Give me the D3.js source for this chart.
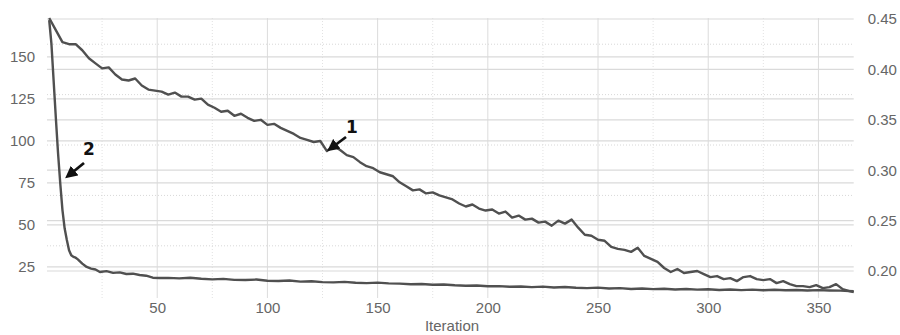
<!DOCTYPE html>
<html>
<head>
<meta charset="utf-8">
<script src="https://cdn.jsdelivr.net/npm/d3@7"></script>
<style>
  body { margin: 0; background: #fff; }
  svg text { font-family: "Liberation Sans", Arial, sans-serif; }
</style>
</head>
<body>
<svg id="chart" width="900" height="335"></svg>
<script>
// series 1 (right axis), every 3rd iteration
var iters1 = [1,4,7,10,13,16,19,22,25,28,31,34,37,40,43,46,49,52,55,58,61,64,67,70,73,76,79,82,85,88,91,94,97,100,
  103,106,109,112,115,118,121,124,127,130,133,136,139,142,145,148,151,154,157,160,163,166,169,172,175,178,181,184,187,190,
  193,196,199,202,205,208,211,214,217,220,223,226,229,232,235,238,241,244,247,250,253,256,259,262,265,268,271,274,277,280,
  283,286,289,292,295,298,301,304,307,310,313,316,319,322,325,328,331,334,337,340,343,346,349,352,355,358,361,364,366];
var values1 = [0.451,0.439,0.427,0.425,0.425,0.419,0.411,0.406,0.401,0.402,0.395,0.390,0.389,0.391,0.384,0.380,0.379,0.378,
  0.375,0.377,0.373,0.373,0.370,0.371,0.365,0.362,0.358,0.359,0.354,0.356,0.352,0.349,0.350,0.345,0.346,0.342,0.339,0.336,
  0.332,0.330,0.328,0.329,0.319,0.324,0.320,0.315,0.313,0.308,0.304,0.302,0.298,0.296,0.294,0.288,0.284,0.280,0.281,0.277,
  0.278,0.275,0.273,0.271,0.267,0.264,0.266,0.262,0.260,0.261,0.257,0.259,0.253,0.255,0.251,0.252,0.248,0.249,0.245,0.250,
  0.247,0.251,0.243,0.236,0.235,0.231,0.230,0.224,0.222,0.221,0.219,0.223,0.215,0.212,0.209,0.203,0.199,0.202,0.198,0.199,
  0.200,0.197,0.194,0.195,0.192,0.193,0.190,0.194,0.195,0.192,0.191,0.192,0.188,0.190,0.187,0.185,0.185,0.184,0.186,0.183,
  0.184,0.187,0.182,0.180,0.179];

// series 2 (left axis)
var iters2 = [1,2,3,4,5,6,7,8,9,10,11,12,13,14,16,18,20,22,24,27,30,33,36,39,42,45,48,51,55,60,65,70,75,80,85,90,95,100,
  105,110,115,120,125,130,135,140,145,150,155,160,165,170,175,180,185,190,195,200,205,210,215,220,225,230,235,240,245,250,
  255,260,265,270,275,280,285,290,295,300,305,310,315,320,325,330,335,340,345,350,355,360,366];
var values2 = [172,158,136,114,93,75,59,48,41,35,32,31,30.5,29.5,27,25,24,23.5,22,22.5,21.5,21.8,20.8,21,20.2,19.8,18.6,
  18.4,18.5,18.2,18.6,18,17.6,17.9,17.3,17.2,17.5,16.8,16.6,16.9,16.3,16.5,16,15.8,16.1,15.6,15.4,15.7,15.2,15.1,14.7,14.9,
  14.4,14.6,14.1,13.8,14,13.5,13.6,13.2,13.4,13,13.3,12.8,13.1,12.6,12.4,12.7,12.2,12.4,11.9,12.2,11.8,12,11.6,11.9,11.5,
  11.7,11.3,11.6,11.2,11.5,11.1,11.4,11.1,11.3,11,11.2,11,10.9,10.5];

var xTicks = [50,100,150,200,250,300,350];
var xMinor = [25,75,125,175,225,275,325];
var leftTicks = [25,50,75,100,125,150];
var rightTicks = [0.20,0.25,0.30,0.35,0.40,0.45];
var rightMinor = [0.225,0.275,0.325,0.375,0.425];

(function() {
var svg = d3.select("#chart");
var pLeft = 47, pRight = 853.7, pTop = 18, pBottom = 293;

var x = d3.scaleLinear().domain([0, 366]).range([pLeft, pRight]);
var yL = d3.scaleLinear().domain([9.5, 173.2]).range([pBottom, pTop]);
var yR = d3.scaleLinear().domain([0.1782, 0.451]).range([pBottom, pTop]);

var grid = svg.append("g");
// vertical grid
grid.selectAll(".vmin").data(xMinor).enter().append("line")
  .attr("x1", d => x(d)).attr("x2", d => x(d)).attr("y1", pTop).attr("y2", pBottom + 5)
  .attr("stroke", "#e2e2e2").attr("stroke-dasharray", "1,2");
grid.selectAll(".vmaj").data(xTicks).enter().append("line")
  .attr("x1", d => x(d)).attr("x2", d => x(d)).attr("y1", pTop).attr("y2", pBottom + 5)
  .attr("stroke", "#dcdcdc");
// right axis grid
grid.selectAll(".rmin").data(rightMinor).enter().append("line")
  .attr("x1", pLeft).attr("x2", pRight).attr("y1", d => yR(d)).attr("y2", d => yR(d))
  .attr("stroke", "#d8d8d8").attr("stroke-dasharray", "1,2");
grid.selectAll(".rmaj").data(rightTicks).enter().append("line")
  .attr("x1", pLeft).attr("x2", pRight).attr("y1", d => yR(d)).attr("y2", d => yR(d))
  .attr("stroke", "#dadada").attr("stroke-width", 1.2);
// left axis grid
grid.selectAll(".lmaj").data(leftTicks).enter().append("line")
  .attr("x1", pLeft).attr("x2", pRight).attr("y1", d => yL(d)).attr("y2", d => yL(d))
  .attr("stroke", "#dadada").attr("stroke-width", 1.2);

// axes
var xAxis = d3.axisBottom(x).tickValues(xTicks).tickSize(0).tickPadding(9);
var lAxis = d3.axisLeft(yL).tickValues(leftTicks).tickSize(0).tickPadding(12);
var rAxis = d3.axisRight(yR).tickValues(rightTicks).tickSize(0).tickPadding(14)
  .tickFormat(d3.format(".2f"));

function styleAxis(g) {
  g.select(".domain").remove();
  g.selectAll("text").attr("fill", "#666").style("font-size", "15px")
    .style("font-family", "'Liberation Sans', Arial, sans-serif");
}
svg.append("g").attr("transform", "translate(0," + pBottom + ")").call(xAxis).call(styleAxis);
svg.append("g").attr("transform", "translate(" + pLeft + ",0)").call(lAxis).call(styleAxis);
svg.append("g").attr("transform", "translate(" + pRight + ",0)").call(rAxis).call(styleAxis);

svg.append("text").attr("x", 452).attr("y", 331).attr("text-anchor", "middle")
  .attr("fill", "#666").style("font-size", "15px").text("Iteration");

// lines
var line1 = d3.line().x((d, i) => x(iters1[i])).y(d => yR(d));
var line2 = d3.line().x((d, i) => x(iters2[i])).y(d => yL(d));
svg.append("path").datum(values1).attr("d", line1)
  .attr("fill", "none").attr("stroke", "#505050").attr("stroke-width", 2.4).attr("stroke-linejoin", "round");
svg.append("path").datum(values2).attr("d", line2)
  .attr("fill", "none").attr("stroke", "#505050").attr("stroke-width", 2.4).attr("stroke-linejoin", "round");

// annotations
var defs = svg.append("defs");
defs.append("marker").attr("id", "head").attr("viewBox", "0 0 10 10")
  .attr("refX", 7).attr("refY", 5).attr("markerWidth", 4.4).attr("markerHeight", 4.4)
  .attr("orient", "auto").attr("markerUnits", "strokeWidth")
  .append("path").attr("d", "M0,0L10,5L0,10z").attr("fill", "#111");

var notes = [
  {label: "1", tx: 352, ty: 133, x1: 346, y1: 137, x2: 330, y2: 149},
  {label: "2", tx: 89, ty: 155, x1: 84, y1: 163, x2: 68, y2: 176}
];
notes.forEach(function(n) {
  svg.append("line").attr("x1", n.x1).attr("y1", n.y1).attr("x2", n.x2).attr("y2", n.y2)
    .attr("stroke", "#111").attr("stroke-width", 2.8).attr("marker-end", "url(#head)");
  svg.append("text").attr("x", n.tx).attr("y", n.ty).attr("text-anchor", "middle")
    .attr("fill", "#111").style("font-size", "17px").style("font-weight", "bold")
    .style("font-family", "'DejaVu Sans', Verdana, sans-serif").text(n.label);
});
})();
</script>
</body>
</html>
